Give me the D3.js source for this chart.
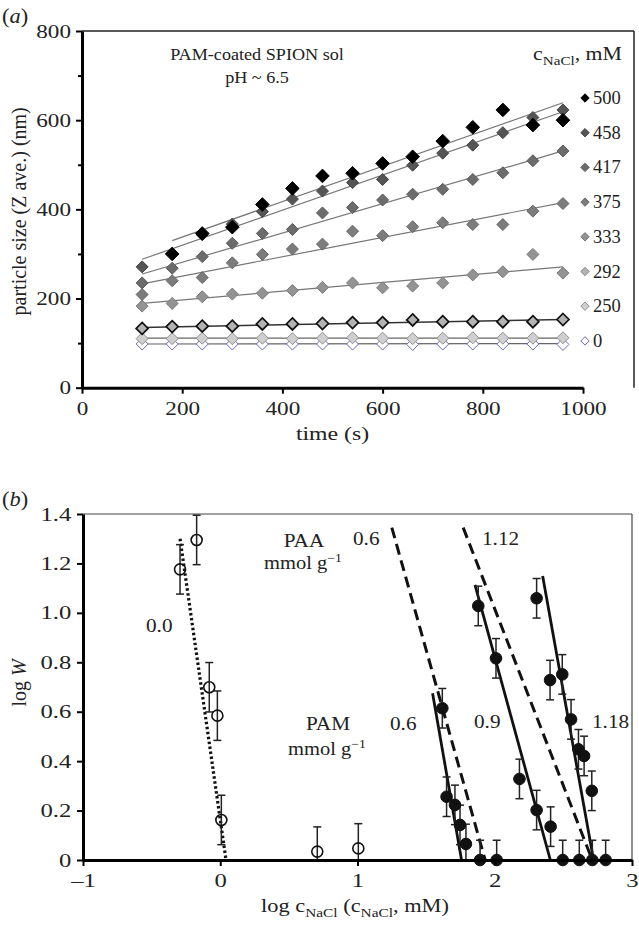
<!DOCTYPE html>
<html><head><meta charset="utf-8">
<script src="https://cdn.jsdelivr.net/npm/d3@7"></script>
<style>
body{margin:0;background:#fff;}
svg{display:block;font-family:"Liberation Serif","Times New Roman",serif;}
</style></head>
<body><svg id="c" width="639" height="928"></svg>
<script>
// ---------- Panel (a) data ----------
const times = [120,180,240,300,360,420,480,540,600,660,720,780,840,900,960];
const seriesNames = ["500","458","417","375","333","292","250","0"];
const s500 = [null,300,346,360,411,447,475,481,503,518,553,584,623,589,600];
const s458 = [271,301,343,367,395,423,441,460,467,499,526,544,572,606,623];
const s417 = [235,268,294,324,346,355,392,404,421,434,445,467,482,509,531];
const s375 = [209,240,247,280,299,311,322,351,341,361,370,366,366,396,413];
const s333 = [183,189,204,210,212,218,225,235,224,228,235,253,260,299,257];
const s292 = [133,137,138,138,143,143,144,146,146,152,148,148,148,148,153];
const s250 = [110,110,111,110,111,110,111,112,111,110,111,112,111,111,112];
const s0   = [98,98,98,98,98,98,98,98,98,97,98,98,98,98,97];
const seriesValues = [s500,s458,s417,s375,s333,s292,s250,s0];
// linear fit lines: start time, start value, end time, end value
const fitT0 = [180,120,120,120,120,120,120,120];
const fitV0 = [330,288,255,233,189,135,111,98];
const fitT1 = [960,960,960,960,960,960,960,960];
const fitV1 = [639,619,531,415,271,153,111,99];
const aXTicks = [0,200,400,600,800,1000];
const aYTicks = [0,200,400,600,800];
const aYMinor = [100,300,500,700];

// ---------- Panel (b) data ----------
const openLogC = [-0.293,-0.172,-0.08,-0.021,0.008,0.707,1.006];
const openLogW = [1.176,1.295,0.699,0.584,0.162,0.034,0.047];
const openErr  = [0.1,0.1,0.1,0.1,0.1,0.1,0.1];
const pamLogC = [1.618,1.649,1.71,1.747,1.79,1.893,2.014,1.88,2.009,2.18,2.305,2.407,2.495,2.305,2.403,2.492,2.556,2.61,2.651,2.707,2.616,2.711,2.808];
const pamLogW = [0.614,0.256,0.223,0.142,0.065,0,0,1.028,0.816,0.328,0.202,0.135,0,1.059,0.728,0.751,0.569,0.448,0.421,0.28,0,0,0];
const pamErr = 0.08;
const dottedLine = [[-0.293,1.30],[0.042,0]];
const pamLines = [[[1.547,0.675],[1.758,0]],[[1.856,1.113],[2.405,0]],[[2.349,1.149],[2.72,0]]];
const paaLines = [[[1.25,1.345],[1.93,0]],[[1.77,1.345],[2.71,0]]];
const bXTicks = [-1,0,1,2,3];
const bXLabels = ["\u20131","0","1","2","3"];
const bYTicks = [0,0.2,0.4,0.6,0.8,1.0,1.2,1.4];
const bYLabels = ["0","0.2","0.4","0.6","0.8","1.0","1.2","1.4"];

const svg = d3.select("#c");
const INK = "#222";

// helper: horizontal text with slight horizontal stretch (the reference type is wide)
function txt(g,x,y,sx,size,anchor){
  return g.append("text").attr("transform",`translate(${x},${y}) scale(${sx},1)`)
    .attr("text-anchor",anchor||"start").attr("font-size",size).attr("fill",INK);
}
function styleAxis(g,sx){
  g.select(".domain").attr("stroke","#000").attr("stroke-width",3);
  g.selectAll(".tick line").attr("stroke","#000").attr("stroke-width",2);
  g.selectAll(".tick text").attr("font-family","Liberation Serif").attr("font-size",19)
    .attr("fill",INK).attr("transform",`scale(${sx},1)`);
}

// ================= Panel (a) =================
const ax = d3.scaleLinear().domain([0,1000]).range([82,583]);
const ay = d3.scaleLinear().domain([0,800]).range([387.7,31]);
const aRight = 634;

const fills = ["#000","#555","#6c6c6c","#7c7c7c","#939393","#b3b3b3","#cfcfcf","#fff"];
const strokes = ["#000","#444","#5a5a5a","#666","#7a7a7a","#111","#909090","#6a6abf"];
const strokeW = [1,1,1,1,1,1.7,1,1];

const gA = svg.append("g");
gA.append("line").attr("x1",ax(0)).attr("x2",aRight).attr("y1",ay(800)).attr("y2",ay(800)).attr("stroke","#222").attr("stroke-width",1.5);
gA.append("line").attr("x1",aRight).attr("x2",aRight).attr("y1",ay(800)).attr("y2",ay(0)).attr("stroke","#222").attr("stroke-width",1.5);

const lineColors = ["#777","#777","#777","#777","#777","#333","#666","#666"];
seriesNames.forEach((n,i)=>{
  gA.append("line")
    .attr("x1",ax(fitT0[i])).attr("y1",ay(fitV0[i]))
    .attr("x2",ax(fitT1[i])).attr("y2",ay(fitV1[i]))
    .attr("stroke",lineColors[i]).attr("stroke-width",i===5?1.5:1.2);
});
const diamondSq = (h)=>`M0,${-h}L${h},0L0,${h}L${-h},0Z`;
for (let i=seriesNames.length-1;i>=0;i--){
  const vals = seriesValues[i];
  gA.append("g").selectAll("path").data(times.map((t,k)=>[t,vals[k]]).filter(d=>d[1]!=null))
    .join("path")
    .attr("d",diamondSq(i===0?6.8:6))
    .attr("transform",d=>`translate(${ax(d[0])},${ay(d[1])})`)
    .attr("fill",fills[i]).attr("stroke",strokes[i]).attr("stroke-width",strokeW[i]);
}
const axA = gA.append("g").attr("transform",`translate(0,${ay(0)})`)
  .call(d3.axisBottom(ax).tickValues(aXTicks).tickSize(6).tickSizeOuter(0).tickFormat(d3.format("d")));
const ayA = gA.append("g").attr("transform",`translate(${ax(0)},0)`)
  .call(d3.axisLeft(ay).tickValues(aYTicks).tickSize(6).tickSizeOuter(0).tickFormat(d3.format("d")));
gA.append("g").attr("transform",`translate(${ax(0)},0)`)
  .call(d3.axisLeft(ay).tickValues(aYMinor).tickSize(4).tickSizeOuter(0).tickFormat(""))
  .call(g=>{g.select(".domain").remove(); g.selectAll("line").attr("stroke","#000").attr("stroke-width",2);});
styleAxis(axA,1.22); styleAxis(ayA,1.22);
axA.selectAll(".tick text").attr("dy","0.95em");

txt(gA,2,23,1.12,20).html('(<tspan font-style="italic">a</tspan>)');
gA.append("text").attr("transform",`translate(26,${(ay(0)+ay(800))/2+2}) rotate(-90)`)
  .attr("text-anchor","middle").attr("font-size",20).attr("fill",INK).text("particle size (Z ave.) (nm)");
txt(gA,ax(500),440,1.25,19,"middle").text("time (s)");
txt(gA,257,60,1.1,16.5,"middle").text("PAM-coated SPION sol");
txt(gA,257,83,1.1,16.5,"middle").text("pH ~ 6.5");
txt(gA,622,60,1.12,19.5,"end")
  .html('c<tspan font-size="13.5" dy="5">NaCl</tspan><tspan dy="-5">, mM</tspan>');
seriesNames.forEach((n,i)=>{
  const y = 98 + i*34.7;
  gA.append("path").attr("d",diamondSq(4.2)).attr("transform",`translate(585,${y})`)
    .attr("fill",fills[i]).attr("stroke",i===5?"#888":strokes[i]).attr("stroke-width",1);
  gA.append("text").attr("x",593).attr("y",y+6).attr("font-size",18.5).attr("fill",INK).text(n);
});

// ================= Panel (b) =================
const bx = d3.scaleLinear().domain([-1,3]).range([83,632]);
const by = d3.scaleLinear().domain([0,1.4]).range([860,514]);
const gB = svg.append("g");
gB.append("line").attr("x1",bx(-1)).attr("x2",bx(3)).attr("y1",by(1.4)).attr("y2",by(1.4)).attr("stroke","#444").attr("stroke-width",1.2);
gB.append("line").attr("x1",bx(3)).attr("x2",bx(3)).attr("y1",by(1.4)).attr("y2",by(0)).attr("stroke","#444").attr("stroke-width",1.2);

const lineGen = d3.line().x(d=>bx(d[0])).y(d=>by(d[1]));
gB.append("path").attr("d",lineGen(dottedLine)).attr("fill","none").attr("stroke","#111")
  .attr("stroke-width",3.2).attr("stroke-dasharray","2.5,2.5");
paaLines.forEach(l=>gB.append("path").attr("d",lineGen(l)).attr("fill","none").attr("stroke","#111")
  .attr("stroke-width",3).attr("stroke-dasharray","11,6"));
pamLines.forEach(l=>gB.append("path").attr("d",lineGen(l)).attr("fill","none").attr("stroke","#111")
  .attr("stroke-width",2.8));

function errBars(g,xs,ys,errs){
  xs.forEach((x,i)=>{
    const e = Array.isArray(errs)?errs[i]:errs;
    const top = Math.min(1.4,ys[i]+e), bot = Math.max(0,ys[i]-e);
    const cx = bx(x);
    g.append("line").attr("x1",cx).attr("x2",cx).attr("y1",by(top)).attr("y2",by(bot)).attr("stroke",INK).attr("stroke-width",1.5);
    g.append("line").attr("x1",cx-4).attr("x2",cx+4).attr("y1",by(top)).attr("y2",by(top)).attr("stroke",INK).attr("stroke-width",1.5);
    if (bot>0) g.append("line").attr("x1",cx-4).attr("x2",cx+4).attr("y1",by(bot)).attr("y2",by(bot)).attr("stroke",INK).attr("stroke-width",1.5);
  });
}
errBars(gB,openLogC,openLogW,openErr);
errBars(gB,pamLogC,pamLogW,pamErr);
gB.append("g").selectAll("circle").data(openLogC.map((x,i)=>[x,openLogW[i]])).join("circle")
  .attr("cx",d=>bx(d[0])).attr("cy",d=>by(d[1])).attr("r",5.5)
  .attr("fill","none").attr("stroke","#111").attr("stroke-width",1.6);
gB.append("g").selectAll("circle").data(pamLogC.map((x,i)=>[x,pamLogW[i]])).join("circle")
  .attr("cx",d=>bx(d[0])).attr("cy",d=>by(d[1])).attr("r",5.8)
  .attr("fill","#111").attr("stroke","#111").attr("stroke-width",1);

const axB = gB.append("g").attr("transform",`translate(0,${by(0)})`)
  .call(d3.axisBottom(bx).tickValues(bXTicks).tickSize(6).tickSizeOuter(0).tickFormat((d,i)=>bXLabels[i]));
const ayB = gB.append("g").attr("transform",`translate(${bx(-1)},0)`)
  .call(d3.axisLeft(by).tickValues(bYTicks).tickSize(6).tickSizeOuter(0).tickFormat((d,i)=>bYLabels[i]));
styleAxis(axB,1.3); styleAxis(ayB,1.3);
axB.selectAll(".tick text").attr("dy","0.95em");

txt(gB,2,506,1.12,20).html('(<tspan font-style="italic">b</tspan>)');
gB.append("text").attr("transform",`translate(26,683) rotate(-90)`)
  .attr("text-anchor","middle").attr("font-size",20).attr("fill",INK)
  .html('log <tspan font-style="italic">W</tspan>');
txt(gB,355,912,1.18,19,"middle")
  .html('log c<tspan font-size="13" dy="5">NaCl</tspan><tspan dy="-5"> (c</tspan><tspan font-size="13" dy="5">NaCl</tspan><tspan dy="-5">, mM)</tspan>');

const lbl = (x,y,t,anchor)=>txt(gB,x,y,1.18,18,anchor).text(t);
lbl(304,547,"PAA","middle");
txt(gB,303,569,1.14,18,"middle").html('mmol g<tspan font-size="12" dy="-7">\u22121</tspan>');
lbl(353,545,"0.6");
lbl(482,545,"1.12");
lbl(146,632,"0.0");
lbl(328,730,"PAM","middle");
txt(gB,327,755,1.14,18,"middle").html('mmol g<tspan font-size="12" dy="-7">\u22121</tspan>');
lbl(390,730,"0.6");
lbl(474,728,"0.9");
lbl(592,728,"1.18");
</script></body></html>
